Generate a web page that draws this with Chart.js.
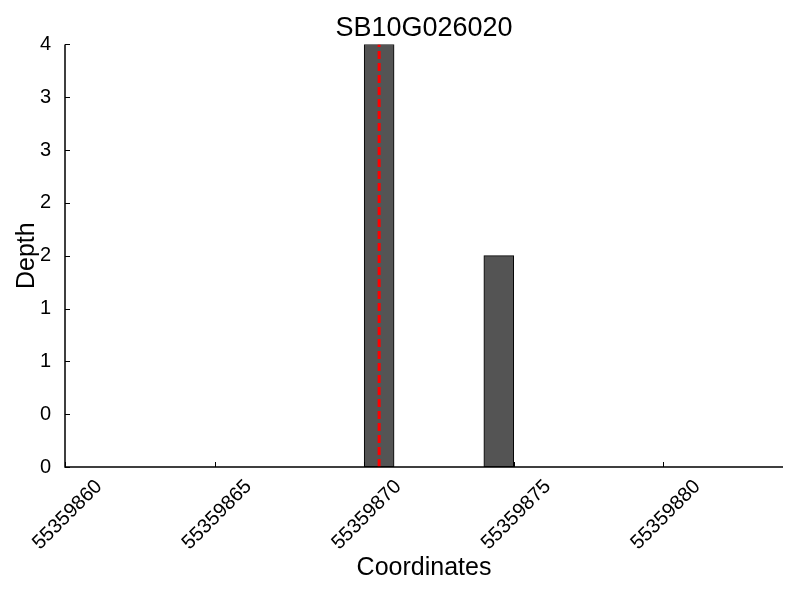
<!DOCTYPE html>
<html>
<head>
<meta charset="utf-8">
<script src="https://cdn.jsdelivr.net/npm/chart.js@4"></script>
<style>
  html, body { margin: 0; padding: 0; background: #fff; }
  #wrap { width: 800px; height: 600px; }
</style>
</head>
<body>
<div id="wrap"><canvas id="depthChart" width="800" height="600"></canvas></div>
<script>
// read depth per coordinate
const coordinates = [55359860, 55359861, 55359862, 55359863, 55359864, 55359865, 55359866, 55359867,
  55359868, 55359869, 55359870, 55359871, 55359872, 55359873, 55359874, 55359875, 55359876,
  55359877, 55359878, 55359879, 55359880, 55359881, 55359882, 55359883];
const depths = [0, 0, 0, 0, 0, 0, 0, 0, 0, 0, 4, 0, 0, 0, 2, 0, 0, 0, 0, 0, 0, 0, 0, 0];
const markerCoordinate = 55359870;
const xRange = [55359860, 55359884];
const yRange = [0, 4];
const xTickValues = [55359860, 55359865, 55359870, 55359875, 55359880];

const FONT = '"Liberation Sans", Arial, sans-serif';

// bars start at their coordinate and are one base wide
const barData = coordinates.map((c, i) => ({ x: c + 0.5, y: depths[i] }));
const markerData = [{ x: markerCoordinate + 0.5, y: yRange[0] }, { x: markerCoordinate + 0.5, y: yRange[1] }];

// matplotlib-ish inward ticks and left/bottom spines
const inwardTicks = {
  id: 'inwardTicks',
  afterDraw(chart) {
    const { ctx, chartArea, scales } = chart;
    ctx.save();
    ctx.strokeStyle = '#000';
    ctx.lineWidth = 1;
    scales.x.ticks.forEach(t => {
      const px = Math.round(scales.x.getPixelForValue(t.value)) + 0.5;
      ctx.beginPath();
      ctx.moveTo(px, chartArea.bottom);
      ctx.lineTo(px, chartArea.bottom - 5);
      ctx.stroke();
    });
    scales.y.ticks.forEach(t => {
      const py = Math.round(scales.y.getPixelForValue(t.value)) + 0.5;
      ctx.beginPath();
      ctx.moveTo(chartArea.left, py);
      ctx.lineTo(chartArea.left + 5, py);
      ctx.stroke();
    });
    ctx.lineWidth = 1.5;
    ctx.beginPath();
    ctx.moveTo(chartArea.left, chartArea.top);
    ctx.lineTo(chartArea.left, chartArea.bottom);
    ctx.lineTo(chartArea.right, chartArea.bottom);
    ctx.stroke();
    ctx.restore();
  }
};

const ctx = document.getElementById('depthChart').getContext('2d');

new Chart(ctx, {
  type: 'bar',
  data: {
    datasets: [
      {
        type: 'line',
        label: 'marker',
        data: markerData,
        borderColor: '#ff0000',
        borderWidth: 3,
        borderDash: [8, 4],
        pointRadius: 0,
        fill: false,
        order: 0
      },
      {
        label: 'Depth',
        data: barData,
        backgroundColor: '#545454',
        borderColor: '#000000',
        borderWidth: 1,
        borderSkipped: false,
        barPercentage: 1.0,
        categoryPercentage: 1.0,
        order: 1
      }
    ]
  },
  options: {
    responsive: false,
    animation: false,
    layout: { padding: { left: 0, right: 17, top: 0, bottom: 0 } },
    scales: {
      x: {
        type: 'linear',
        offset: false,
        min: xRange[0],
        max: xRange[1],
        grid: { display: false },
        border: { display: false },
        afterBuildTicks(scale) {
          scale.ticks = xTickValues.map(v => ({ value: v }));
        },
        afterFit(scale) { scale.height = 133; },
        ticks: {
          color: '#000',
          font: { family: FONT, size: 20 },
          minRotation: 45,
          maxRotation: 45,
          labelOffset: 34,
          padding: 0,
          callback: v => String(v)
        },
        title: {
          display: true,
          text: 'Coordinates',
          color: '#000',
          font: { family: FONT, size: 25 },
          padding: { top: 0, bottom: 17 }
        }
      },
      y: {
        min: yRange[0],
        max: yRange[1],
        grid: { display: false },
        border: { display: false },
        afterFit(scale) { scale.width = 65; },
        ticks: {
          stepSize: 0.5,
          color: '#000',
          font: { family: FONT, size: 20 },
          padding: 6,
          callback: v => String(Math.floor(v))
        },
        title: {
          display: true,
          text: 'Depth',
          color: '#000',
          font: { family: FONT, size: 25 },
          padding: { top: 12, bottom: 0 }
        }
      }
    },
    plugins: {
      legend: { display: false },
      tooltip: { enabled: false },
      title: {
        display: true,
        fullSize: false,
        text: 'SB10G026020',
        color: '#000',
        font: { family: FONT, size: 27, weight: 'normal' },
        padding: { top: 12, bottom: 0 }
      }
    }
  },
  plugins: [inwardTicks]
});
</script>
</body>
</html>
